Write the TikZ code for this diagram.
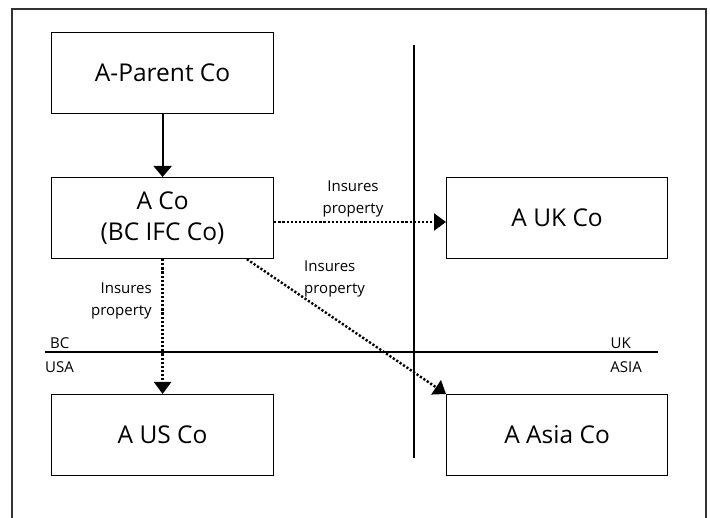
\documentclass[tikz,border=0pt]{standalone}
\usepackage{fontspec}
\setmainfont{Open Sans}
\usetikzlibrary{arrows.meta}
\begin{document}
\begin{tikzpicture}[x=1pt,y=-1pt,
  box/.style={draw, line width=1.2pt, minimum width=222pt, minimum height=81pt, inner sep=0pt,
    font=\fontsize{24.5}{31}\selectfont, align=center, anchor=north west},
  lbl/.style={font=\fontsize{15}{21.5}\selectfont, inner sep=0pt},
  solidarrow/.style={line width=2.2pt, -{Triangle[width=18pt,length=11pt]}},
  dotarrow/.style={line width=2.4pt, dash pattern=on 2.2pt off 1.9pt, -{Triangle[width=17pt,length=12pt]}},
  divider/.style={line width=1.2pt},
  frame/.style={line width=1.5pt, draw=black!80}
]
\useasboundingbox (0,0) rectangle (710,518);
\draw[frame] (12,520) -- (12,9) -- (706,9) -- (706,520);

\draw[divider] (414,45) -- (414,458);
\draw[divider] (45,352) -- (658,352);

\node[box] (parent) at (51,32) {A-Parent Co};
\node[box] (aco) at (51,177) {A Co\\(BC IFC Co)};
\node[box, minimum width=221pt] (uk) at (446,177) {A UK Co};
\node[box] (us) at (51,394) {A US Co};
\node[box, minimum width=221pt] (asia) at (446,394) {A Asia Co};

\draw[solidarrow] (parent.south) -- (aco.north);
\draw[dotarrow] (aco.-2) -- (aco.-2 -| uk.west);
\draw[dotarrow] (aco.south) -- (us.north);
\draw[dotarrow] (aco.-26.6) -- (asia.north west);

\node[lbl, align=center] (l1) at (353,199) {Insures\\property};
\node[lbl, align=right, anchor=east] (l2) at (152,301) {Insures\\property};
\node[lbl, align=left, anchor=west] (l3) at (304,279) {Insures\\property};

\node[lbl, anchor=west] (bc) at (50,343) {BC};
\node[lbl, anchor=west] (usa) at (45,367) {USA};
\node[lbl, anchor=east] (ukl) at (631,343) {UK};
\node[lbl, anchor=east] (asial) at (642,367) {ASIA};
\end{tikzpicture}
\end{document}
